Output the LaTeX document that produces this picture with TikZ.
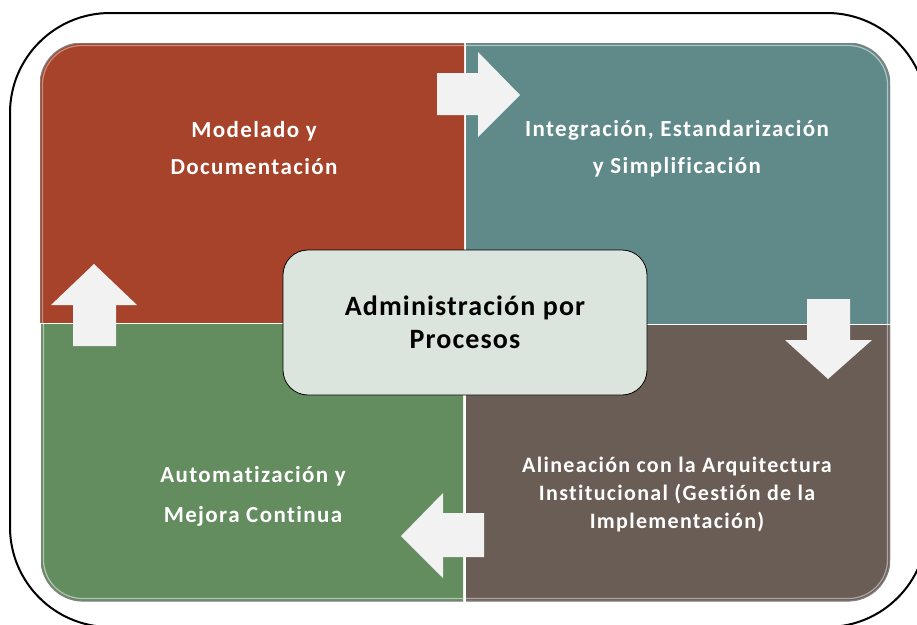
\documentclass[tikz,border=0pt]{standalone}
\usepackage{fontspec}
\setmainfont{Carlito}
\newfontfamily\qfont[LetterSpace=6,Ligatures=NoCommon]{Carlito}
\newfontfamily\cfont[LetterSpace=4,Ligatures=NoCommon]{Carlito}
\definecolor{qred}{RGB}{166,67,42}
\definecolor{qteal}{RGB}{96,137,137}
\definecolor{qgreen}{RGB}{99,140,95}
\definecolor{qbrown}{RGB}{106,93,86}
\definecolor{cbox}{RGB}{220,229,221}
\definecolor{arrfill}{RGB}{242,242,242}
\begin{document}
\begin{tikzpicture}[x=1pt,y=-1pt,
  qedge/.style={draw=black!50, line width=1.2pt, rounded corners=42pt},
  qtext/.style={text=white, align=center, font=\qfont\bfseries\fontsize{23}{37}\selectfont},
  blockarrow/.style={fill=arrfill, draw=none}]
\useasboundingbox (0,0) rectangle (917,624);
\clip (0,0) rectangle (917,624);
\fill[white] (0,0) rectangle (917,624);
% outer frame
\draw[line width=2pt, rounded corners=100pt] (10,13) rectangle (927,627);
% quadrants
\begin{scope}
  \clip (40,43) rectangle (464,322);
  \fill[qred, rounded corners=42pt] (40,43) rectangle (600,500);
  \draw[qedge] (40,43) rectangle (600,500);
  \draw[qred!60!white, line width=1.2pt, rounded corners=39pt] (42.5,45.5) rectangle (600,500);
\end{scope}
\begin{scope}
  \clip (466,43) rectangle (890,323);
  \fill[qteal, rounded corners=42pt] (330,43) rectangle (890,500);
  \draw[qedge] (330,43) rectangle (890,500);
  \draw[qteal!50!white, line width=1.2pt, rounded corners=39pt] (330,45.5) rectangle (887.5,500);
\end{scope}
\begin{scope}
  \clip (41,324) rectangle (463,601);
  \fill[qgreen, rounded corners=42pt] (41,150) rectangle (600,601);
  \draw[qedge] (41,150) rectangle (600,601);
  \draw[qgreen!50!white, line width=1.2pt, rounded corners=39pt] (43.5,150) rectangle (600,598.5);
\end{scope}
\begin{scope}
  \clip (466,325) rectangle (890,601);
  \fill[qbrown, rounded corners=42pt] (330,150) rectangle (890,601);
  \draw[qedge] (330,150) rectangle (890,601);
  \draw[qbrown!55!white, line width=1.2pt, rounded corners=39pt] (330,150) rectangle (887.5,598.5);
\end{scope}
% quadrant texts
\node[qtext] (tl) at (254,148.5) {Modelado y\\Documentación};
\node[qtext] (tr) at (677,148.5) {Integración, Estandarización\\y Simplificación};
\node[qtext, font=\qfont\bfseries\fontsize{23}{40}\selectfont] (bl) at (253,496) {Automatización y\\Mejora Continua};
\node[qtext, font=\qfont\bfseries\fontsize{22}{28}\selectfont] (br) at (677,495) {Alineación con la Arquitectura\\Institucional (Gestión de la\\Implementación)};
% block arrows
\fill[blockarrow] (437,73) -- (478,73) -- (478,52) -- (520,95) -- (478,137) -- (478,115) -- (437,115) -- cycle;
\fill[blockarrow] (807,299) -- (850,299) -- (850,340) -- (872,340) -- (828,379) -- (785,340) -- (807,340) -- cycle;
\fill[blockarrow] (401,536) -- (443,493) -- (443,513) -- (484,513) -- (484,557) -- (443,557) -- (443,578) -- cycle;
\fill[blockarrow] (94,264) -- (137,305) -- (116,305) -- (116,346) -- (73,346) -- (73,305) -- (51,305) -- cycle;
% centre box
\node[draw=black, line width=0.8pt, fill=cbox, rounded corners=25pt,
      minimum width=364pt, minimum height=145pt, align=center,
      font=\cfont\bfseries\fontsize{28}{33}\selectfont] (centre) at (465,322.5)
      {Administración por\\Procesos};
\end{tikzpicture}
\end{document}
